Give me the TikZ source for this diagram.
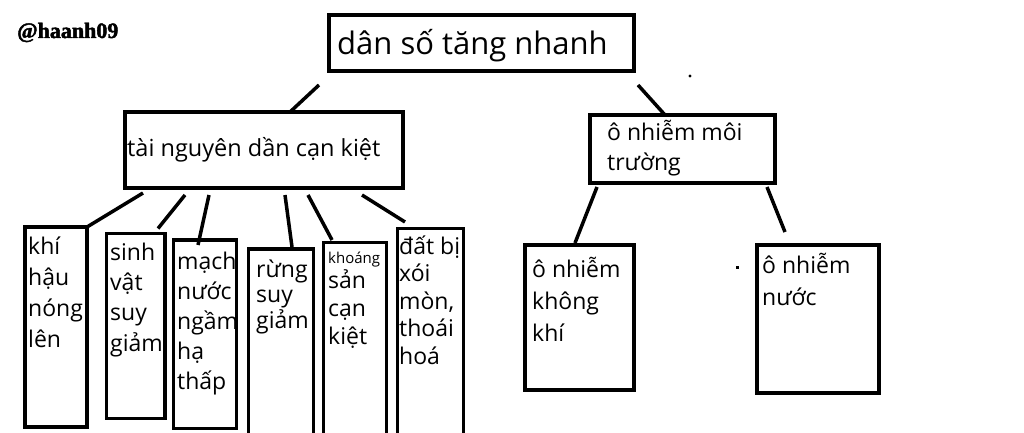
\documentclass[tikz,border=0pt]{standalone}
\usepackage{fontspec}
\usetikzlibrary{calc}
\newfontfamily\onan{Open Sans}
\newfontfamily\wmk[BoldFeatures={FakeBold=2}]{Liberation Serif}
\begin{document}
\begin{tikzpicture}[x=1pt,y=-1pt,
  bx/.style={draw, line width=3.5pt, inner sep=0pt, outer sep=0pt, anchor=north west},
  cn/.style={line width=3.5pt},
  txt/.style={inner sep=0pt, anchor=base west, align=left}]
\useasboundingbox (0,0) rectangle (1024,433);
\fill[white] (0,0) rectangle (1024,433);
\clip (0,0) rectangle (1024,433);
% boxes
\node[bx, minimum width=305pt, minimum height=56pt] (top) at (329,15) {};
\node[bx, minimum width=278pt, minimum height=76pt] (tn) at (125,112) {};
\node[bx, minimum width=185pt, minimum height=68pt] (onmt) at (590,115) {};
\node[bx, minimum width=109pt, minimum height=145pt] (onkk) at (525,245) {};
\node[bx, minimum width=122pt, minimum height=148pt] (onn) at (757,245) {};
\node[bx, minimum width=62pt, minimum height=200pt] (b1) at (25,227) {};
\node[bx, minimum width=58.5pt, minimum height=185pt] (b2) at (106.5,233.5) {};
\node[bx, minimum width=63pt, minimum height=188.5pt] (b3) at (173.5,240) {};
\node[bx, minimum width=65pt, minimum height=210pt] (b4) at (248.5,249) {};
\node[bx, minimum width=63pt, minimum height=210pt] (b5) at (323.5,242.5) {};
\node[bx, minimum width=66pt, minimum height=220pt] (b6) at (397.5,228.5) {};
% texts (anchor = baseline of the last line)
\node[txt, font=\wmk\bfseries\fontsize{22}{22}\selectfont] (wm) at (17,38) {@haanh09};
\node[txt, font=\onan\fontsize{31}{31}\selectfont] (ttop) at (337,55) {dân số tăng nhanh};
\node[txt, font=\onan\fontsize{23.5}{30}\selectfont] (ttn) at (127,156) {tài nguyên dần cạn kiệt};
\node[txt, font=\onan\fontsize{23}{30}\selectfont] (tonmt) at (607,170) {ô nhiễm môi\\trường};
\node[txt, font=\onan\fontsize{23}{32}\selectfont] (tonkk) at (532,341) {ô nhiễm\\không\\khí};
\node[txt, font=\onan\fontsize{23}{32}\selectfont] (tonn) at (762,305) {ô nhiễm\\nước};
\node[txt, font=\onan\fontsize{23}{30.7}\selectfont] (tb1) at (28,347) {khí\\hậu\\nóng\\lên};
\node[txt, font=\onan\fontsize{23}{30.3}\selectfont] (tb2) at (110,351) {sinh\\vật\\suy\\giảm};
\node[txt, font=\onan\fontsize{23}{30}\selectfont] (tb3) at (177,389) {mạch\\nước\\ngầm\\hạ\\thấp};
\node[txt, font=\onan\fontsize{23}{25.5}\selectfont] (tb4) at (256,328) {rừng\\suy\\giảm};
\node[txt, font=\onan\fontsize{15}{15}\selectfont] (tb5a) at (328,263) {khoáng};
\node[txt, font=\onan\fontsize{23}{28}\selectfont] (tb5) at (328,344) {sản\\cạn\\kiệt};
\node[txt, font=\onan\fontsize{23}{27.5}\selectfont] (tb6) at (399,364) {đất bị\\xói\\mòn,\\thoái\\hoá};
% connectors
\draw[cn] ($(top.south west)+(-10,14)$) -- ($(tn.north west)+(165,0)$);
\draw[cn] ($(top.south east)+(4,14)$) -- ($(onmt.north west)+(75,0)$);
\draw[cn] ($(tn.south west)+(18,5)$) -- (b1.north east);
\draw[cn] ($(tn.south west)+(60,7)$) -- ($(b2.north east)+(-7,-5)$);
\draw[cn] ($(tn.south west)+(84,7)$) -- ($(b3.north west)+(24.5,5)$);
\draw[cn] ($(tn.south west)+(160,7)$) -- ($(b4.north west)+(43.5,-2)$);
\draw[cn] ($(tn.south west)+(183,7)$) -- ($(b5.north west)+(8.5,-2.5)$);
\draw[cn] ($(tn.south west)+(237,7)$) -- ($(b6.north west)+(7.5,-6.5)$);
\draw[cn] ($(onmt.south west)+(7,4)$) -- ($(onkk.north west)+(50,-2)$);
\draw[cn] ($(onmt.south east)+(-8,4)$) -- ($(onn.north west)+(28,-13)$);
% stray dots
\fill (690,76) circle (1.7);
\fill (735.5,265.5) rectangle (739,269);
\end{tikzpicture}
\end{document}
